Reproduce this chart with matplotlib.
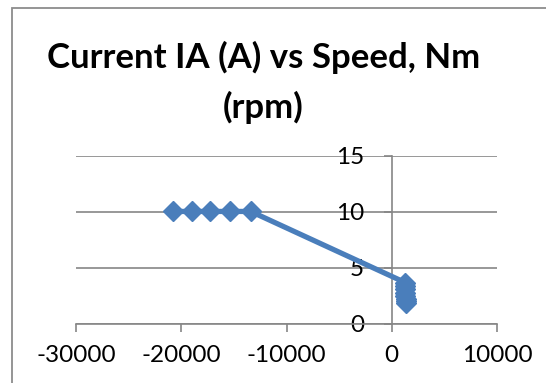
import matplotlib.pyplot as plt
from matplotlib.patches import Rectangle

# speed (rpm) and current IA (A)
speed = [-20820, -18970, -17230, -15400, -13400,
         1280, 1290, 1295, 1300, 1305, 1310, 1315, 1320]
current = [10.05, 10.05, 10.05, 10.05, 10.05,
           3.7, 3.4, 3.1, 2.8, 2.5, 2.25, 2.05, 1.85]

xticks = [-30000, -20000, -10000, 0, 10000]
yticks = [0, 5, 10, 15]

blue = '#4A7EBB'
grey = '#868686'

plt.rcParams['font.family'] = ['Lato', 'DejaVu Sans']
plt.rcParams['axes.unicode_minus'] = False

fig = plt.figure(figsize=(5.46, 3.83), dpi=100)
ax = fig.add_axes([76/546, 1 - 324/383, (497 - 76)/546, (324 - 156)/383])

# chart area border (only top/left visible in the crop)
fig.patches.append(Rectangle((12/546, -0.05), 1.1, 1.05 - 8/383, transform=fig.transFigure,
                             fill=False, edgecolor='#8c8c8c', linewidth=1.3))

ax.plot(speed, current, color=blue, linewidth=3.8, marker='D', markersize=10,
        markeredgecolor=blue, markerfacecolor=blue, solid_joinstyle='round', zorder=3)

ax.set_xlim(-30000, 10000)
ax.set_ylim(0, 15)
ax.set_xticks(xticks)
ax.set_yticks(yticks)
ax.grid(axis='y', color=grey, linewidth=1.2)
ax.set_axisbelow(True)

for s in ['top', 'right']:
    ax.spines[s].set_visible(False)
ax.spines['left'].set_position(('data', 0))
ax.spines['left'].set_color(grey)
ax.spines['bottom'].set_color(grey)
ax.spines['left'].set_linewidth(1.2)
ax.spines['bottom'].set_linewidth(1.2)

ax.tick_params(axis='x', direction='out', length=6, width=1.2, color=grey, labelsize=17.5, pad=9)
ax.tick_params(axis='y', direction='out', length=6, width=1.2, color=grey, labelsize=17.5, pad=14)

fig.text(0.5 * (47 + 480) / 546, 1 - 57/383, 'Current IA (A) vs Speed, Nm', ha='center', va='center',
         fontsize=25, fontweight='bold')
fig.text(0.5 * (47 + 480) / 546, 1 - 107/383, '(rpm)', ha='center', va='center',
         fontsize=25, fontweight='bold')

fig.savefig('out.png', dpi=100)
